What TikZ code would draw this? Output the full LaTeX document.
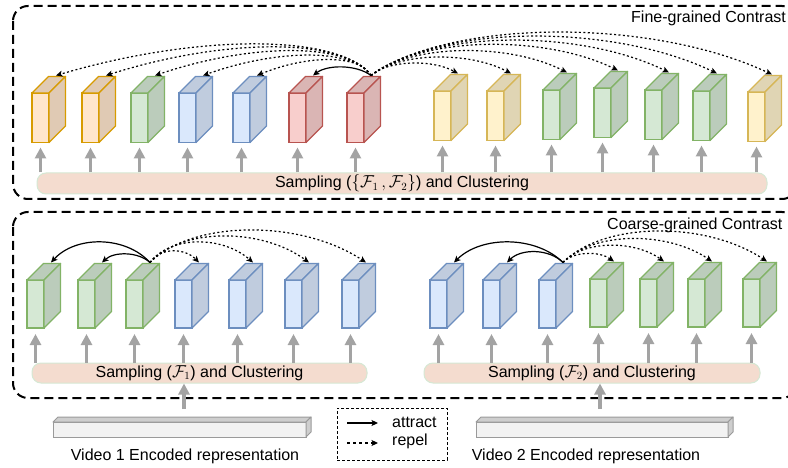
\documentclass[tikz,border=0pt]{standalone}
\usepackage{fontspec}
\setmainfont{Liberation Sans}
\usetikzlibrary{arrows.meta,calc}
\definecolor{oD}{HTML}{D79B00}\definecolor{oF}{HTML}{FFE6CC}
\definecolor{yD}{HTML}{D6B656}\definecolor{yF}{HTML}{FFF2CC}
\definecolor{gD}{HTML}{82B366}\definecolor{gF}{HTML}{D5E8D4}
\definecolor{bD}{HTML}{6C8EBF}\definecolor{bF}{HTML}{DAE8FC}
\definecolor{rD}{HTML}{B85450}\definecolor{rF}{HTML}{F8CECC}
\definecolor{barfill}{HTML}{F4DCCF}
\definecolor{barline}{HTML}{D5E8D4}
\definecolor{upc}{HTML}{A3A3A3}
\definecolor{vidfill}{HTML}{F2F2F2}
\definecolor{vidline}{HTML}{9A9A9A}
% #1 name, #2 x, #3 y (front top-left), #4 colour key
\newcommand\cuboid[4]{%
  \node[cubeface, fill=#4F, draw=#4D] (#1) at (#2,#3) {};
  \draw[cubeside, draw=#4D, fill=#4F!88!black] (#1.north west) -- ++(16.5,-16.5) -- ++(17,0) -- (#1.north east) -- cycle;
  \draw[cubeside, draw=#4D, fill=#4F!88!black] (#1.north east) -- ++(16.5,-16.5) -- ($(#1.south east)+(16.5,-16.5)$) -- (#1.south east) -- cycle;
  \coordinate (#1t) at ($(#1.north west)+(24,-17.5)$);
}
% #1 style, #2 from, #3 to, #4 #5 fractions, #6 height
\newcommand\arcconn[6]{%
  \draw[#1] (#2) .. controls ($(#2)!#4!(#3)+(0,-#6)$) and ($(#2)!#5!(#3)+(0,-#6)$) .. (#3);
}
\begin{document}
\begin{tikzpicture}[x=1pt,y=-1pt,
  cubeface/.style={rectangle, anchor=north west, minimum width=17pt, minimum height=49.5pt, inner sep=0pt, outer sep=0pt, line width=1.3pt},
  cubeside/.style={line width=1.3pt, line join=round},
  lbl/.style={font=\fontsize{16}{19}\selectfont, inner sep=0pt},
  bar/.style={rectangle, rounded corners=9pt, fill=barfill, draw=barline, line width=1pt, font=\fontsize{16}{19}\selectfont, inner sep=0pt},
  outerbox/.style={draw=black, line width=2pt, dash pattern=on 9pt off 5pt, rounded corners=15pt},
  attract/.style={line width=1.2pt, -{Stealth[length=6.5pt,width=6pt,inset=1.5pt]}},
  repel/.style={attract, dash pattern=on 2pt off 2.4pt},
  uparrow/.style={draw=upc, line width=3.6pt, -{Triangle[width=11pt,length=11pt]}},
  vid/.style={rectangle, anchor=north west, fill=vidfill, draw=vidline, line width=1pt, inner sep=0pt, outer sep=0pt},
  vidside/.style={fill=vidfill!85!black, draw=vidline, line width=1pt, line join=round}
]
\useasboundingbox (0,0) rectangle (788,468);
\clip (0,0) rectangle (788,468);

% outer dashed boxes
\draw[outerbox] (13,6) rectangle (797,199);
\draw[outerbox] (13,212) rectangle (797,398);
\node[lbl, anchor=west] (fine) at (631,18) {Fine-grained Contrast};
\node[lbl, anchor=west] (coarse) at (607,225) {Coarse-grained Contrast};

% ---------- fine-grained row ----------
\cuboid{c1}{32}{93}{o}
\cuboid{c2}{82}{93}{o}
\cuboid{c3}{131}{93}{g}
\cuboid{c4}{179}{93}{b}
\cuboid{c5}{233}{93}{b}
\cuboid{c6}{289}{93}{r}
\cuboid{c7}{347}{93}{r}
\cuboid{c8}{434}{91}{y}
\cuboid{c9}{487}{91}{y}
\cuboid{c10}{543}{90}{g}
\cuboid{c11}{594}{88}{g}
\cuboid{c12}{645}{90}{g}
\cuboid{c13}{693}{91}{g}
\cuboid{c14}{748}{92}{y}

\node[bar, minimum width=730pt, minimum height=21pt] (bar1) at (402,183.5)
  {Sampling ($\{\mathcal{F}_1\,,\mathcal{F}_2\}$) and Clustering};
\foreach \i in {1,...,14}{\draw[uparrow, shorten >=5pt] (c\i.south |- bar1.north) -- (c\i.south);}

\arcconn{attract}{c7t}{c6t}{0.25}{0.75}{11}
\arcconn{repel}{c7t}{c5t}{0.1}{0.55}{21}
\arcconn{repel}{c7t}{c4t}{0.1}{0.55}{27}
\arcconn{repel}{c7t}{c3t}{0.1}{0.55}{33}
\arcconn{repel}{c7t}{c2t}{0.1}{0.55}{38}
\arcconn{repel}{c7t}{c1t}{0.1}{0.55}{42}
\arcconn{repel}{c7t}{c8t}{0.2}{0.7}{15}
\arcconn{repel}{c7t}{c9t}{0.2}{0.7}{23}
\arcconn{repel}{c7t}{c10t}{0.2}{0.7}{31}
\arcconn{repel}{c7t}{c11t}{0.2}{0.7}{38}
\arcconn{repel}{c7t}{c12t}{0.2}{0.7}{45}
\arcconn{repel}{c7t}{c13t}{0.2}{0.7}{51}
\arcconn{repel}{c7t}{c14t}{0.2}{0.7}{57}

% ---------- coarse-grained rows ----------
\begin{scope}[cubeface/.append style={minimum height=48pt}]
\cuboid{L1}{27}{280}{g}
\cuboid{L2}{78}{280}{g}
\cuboid{L3}{126}{280}{g}
\cuboid{L4}{175}{280}{b}
\cuboid{L5}{229}{280}{b}
\cuboid{L6}{285}{280}{b}
\cuboid{L7}{342}{280}{b}
\cuboid{R1}{430}{280}{b}
\cuboid{R2}{483}{280}{b}
\cuboid{R3}{539}{280}{b}
\cuboid{R4}{590}{279}{g}
\cuboid{R5}{640}{279}{g}
\cuboid{R6}{688}{279}{g}
\cuboid{R7}{743}{279}{g}
\end{scope}

\node[bar, minimum width=335pt, minimum height=20pt] (bar2) at (199.5,373)
  {Sampling ($\mathcal{F}_1$) and Clustering};
\node[bar, minimum width=336pt, minimum height=20pt] (bar3) at (592,373)
  {Sampling ($\mathcal{F}_2$) and Clustering};
\foreach \i in {1,...,7}{
  \draw[uparrow, shorten >=6pt] (L\i.south |- bar2.north) -- (L\i.south);
  \draw[uparrow, shorten >=6pt] (R\i.south |- bar3.north) -- (R\i.south);
}

\arcconn{attract}{L3t}{L1t}{0.25}{0.75}{27}
\arcconn{attract}{L3t}{L2t}{0.25}{0.75}{11}
\arcconn{repel}{L3t}{L4t}{0.2}{0.7}{15}
\arcconn{repel}{L3t}{L5t}{0.2}{0.7}{27}
\arcconn{repel}{L3t}{L6t}{0.2}{0.7}{35}
\arcconn{repel}{L3t}{L7t}{0.2}{0.7}{43}

\arcconn{attract}{R3t}{R1t}{0.25}{0.75}{27}
\arcconn{attract}{R3t}{R2t}{0.25}{0.75}{14}
\arcconn{repel}{R3t}{R4t}{0.2}{0.7}{11}
\arcconn{repel}{R3t}{R5t}{0.2}{0.7}{22}
\arcconn{repel}{R3t}{R6t}{0.2}{0.7}{31}
\arcconn{repel}{R3t}{R7t}{0.2}{0.7}{41}

% ---------- encoded representations ----------
\node[vid, minimum width=253pt, minimum height=15pt] (vid1) at (53,422) {};
\draw[vidside] (vid1.north west) -- ++(5,-5) -- ($(vid1.north east)+(5,-5)$) -- (vid1.north east) -- cycle;
\draw[vidside] (vid1.north east) -- ++(5,-5) -- ($(vid1.south east)+(5,-5)$) -- (vid1.south east) -- cycle;
\node[vid, minimum width=252pt, minimum height=15pt] (vid2) at (476,422) {};
\draw[vidside] (vid2.north west) -- ++(5,-5) -- ($(vid2.north east)+(5,-5)$) -- (vid2.north east) -- cycle;
\draw[vidside] (vid2.north east) -- ++(5,-5) -- ($(vid2.south east)+(5,-5)$) -- (vid2.south east) -- cycle;
\node[lbl] (v1l) at (185,456) {Video 1 Encoded representation};
\node[lbl] (v2l) at (586,456) {Video 2 Encoded representation};

\coordinate (v1a) at (184,409);
\coordinate (v2a) at (600,409);
\draw[uparrow] (v1a) -- (v1a |- bar2.south);
\draw[uparrow] (v2a) -- (v2a |- bar3.south);

% ---------- legend ----------
\node[draw=black, dash pattern=on 3pt off 2pt, line width=0.9pt, minimum width=110pt, minimum height=52pt, inner sep=0pt] (leg) at (392,434) {};
\coordinate (la1) at (347,423);
\coordinate (la2) at (378,423);
\coordinate (lr1) at (347,443);
\coordinate (lr2) at (378,443);
\draw[attract] (la1) -- (la2);
\draw[repel, dash pattern=on 3pt off 3pt] (lr1) -- (lr2);
\node[lbl, anchor=west] (latt) at (392,422) {attract};
\node[lbl, anchor=west] (lrep) at (392,441) {repel};
\end{tikzpicture}
\end{document}
